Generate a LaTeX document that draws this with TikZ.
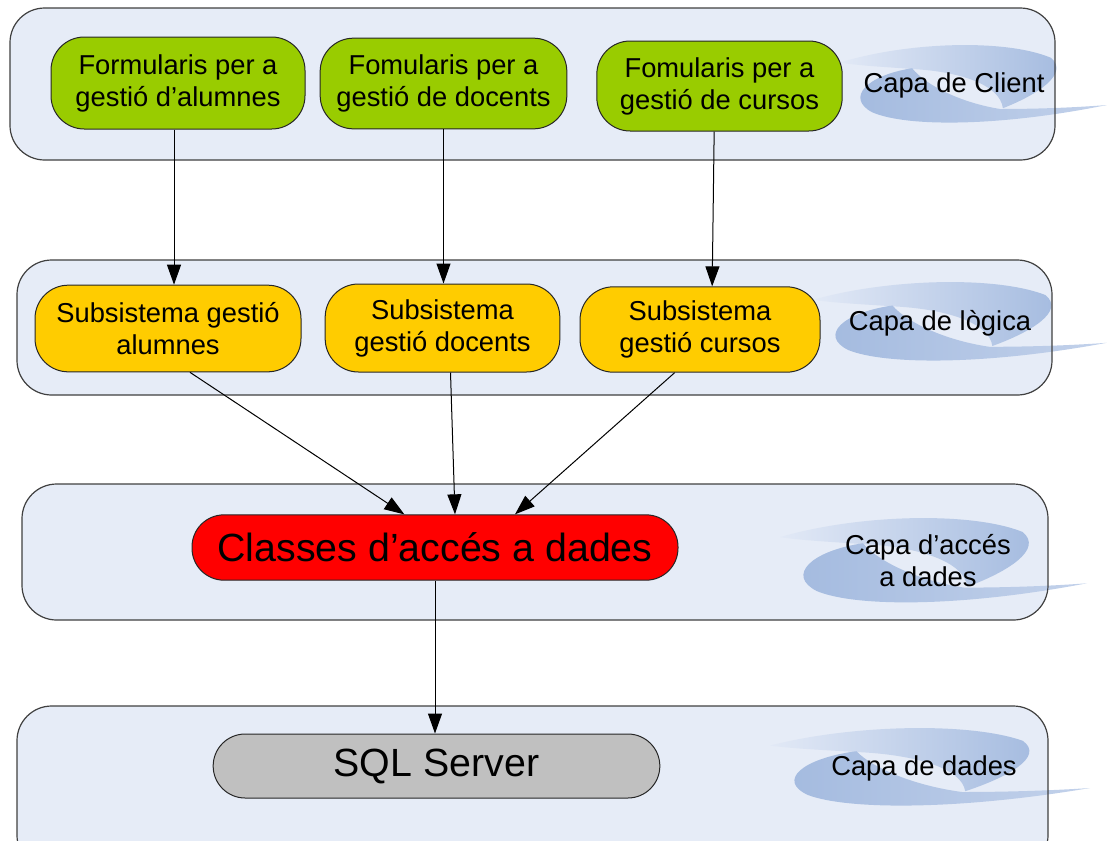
\documentclass[tikz,border=0pt]{standalone}
\usepackage{fontspec}
\setmainfont{Liberation Sans}
\usetikzlibrary{arrows.meta}
\definecolor{layerfill}{HTML}{E6ECF7}
\definecolor{layerdraw}{HTML}{404040}
\definecolor{greenbox}{HTML}{99CC00}
\definecolor{yellowbox}{HTML}{FFCC00}
\definecolor{redbox}{HTML}{FF0000}
\definecolor{graybox}{HTML}{C0C0C0}
\definecolor{swdark}{HTML}{A3BADF}
\definecolor{swlight}{HTML}{E2E9F6}
\newcommand\myswoosh[4]{%
  \begin{scope}[shift={(#1,#2)},xscale=#3,yscale=#4]
    \path[left color=swlight,right color=swdark]
      (0,0.22) .. controls (0.25,-0.04) and (0.62,-0.08) .. (0.79,0.16)
      .. controls (0.86,0.36) and (0.74,0.62) .. (0.61,0.79)
      .. controls (0.6,0.5) and (0.45,0.33) .. (0.27,0.3)
      .. controls (0.15,0.27) and (0.08,0.26) .. (0,0.22) -- cycle;
    \path[left color=swdark,right color=swlight!50!swdark]
      (0.27,0.29) .. controls (0.1,0.38) and (0.02,0.66) .. (0.12,0.84)
      .. controls (0.25,1.03) and (0.6,1.02) .. (1,0.75)
      .. controls (0.85,0.79) and (0.7,0.8) .. (0.6,0.8)
      .. controls (0.45,0.72) and (0.32,0.5) .. (0.27,0.29) -- cycle;
  \end{scope}}
\tikzset{
  layerbox/.style={rectangle, rounded corners=26pt, inner sep=0pt},
  layerline/.style={layerbox, draw=layerdraw, line width=0.9pt},
  boxbase/.style={rectangle, draw=black!85, line width=0.75pt, inner sep=0pt, align=center,
    font=\fontsize{20.5}{24}\selectfont},
  greennode/.style={boxbase, fill=greenbox, rounded corners=25pt},
  yellownode/.style={boxbase, fill=yellowbox, rounded corners=25pt},
  bignode/.style={boxbase, rounded corners=24pt, font=\fontsize{29.5}{34}\selectfont},
  capa/.style={align=center, inner sep=0pt, font=\fontsize{20.5}{24}\selectfont},
  arr/.style={draw=black, line width=0.75pt, -{Triangle[length=15pt,width=10.5pt]}}
}
\begin{document}
\begin{tikzpicture}[x=0.75pt,y=-0.75pt]
\useasboundingbox (0,0) rectangle (1107,840);
% layer backgrounds
\node[layerbox, fill=layerfill, minimum width=783.75pt, minimum height=114pt] (bg1) at (532.5,84) {};
\node[layerbox, fill=layerfill, minimum width=776.25pt, minimum height=101.25pt] (bg2) at (534.5,327.5) {};
\node[layerbox, fill=layerfill, minimum width=769.5pt, minimum height=102pt] (bg3) at (535,552) {};
\node[layerbox, fill=layerfill, minimum width=773.25pt, minimum height=123pt] (bg4) at (532.5,788) {};
% swooshes
\myswoosh{840}{45}{267}{80}
\myswoosh{813}{282}{294}{81}
\myswoosh{780}{518}{307}{87}
\myswoosh{770}{728}{320}{80}
% layer borders
\node[layerline, minimum width=783.75pt, minimum height=114pt] (lay1) at (bg1) {};
\node[layerline, minimum width=776.25pt, minimum height=101.25pt] (lay2) at (bg2) {};
\node[layerline, minimum width=769.5pt, minimum height=102pt] (lay3) at (bg3) {};
\node[layerline, minimum width=773.25pt, minimum height=123pt] (lay4) at (bg4) {};
% layer labels
\node[capa] (c1) at (954,85) {Capa de Client};
\node[capa] (c2) at (940,323) {Capa de lògica};
\node[capa] (c3) at (928,561) {Capa d’accés\\a dades};
\node[capa] (c4) at (924,768) {Capa de dades};
% client nodes
\node[greennode, minimum width=190.5pt, minimum height=69pt] (n1) at (178,83) {Formularis per a\\gestió d’alumnes};
\node[greennode, minimum width=185pt, minimum height=68pt] (n2) at (443.5,83.5) {Fomularis per a\\gestió de docents};
\node[greennode, minimum width=184pt, minimum height=67.5pt] (n3) at (719.5,86) {Fomularis per a\\gestió de cursos};
% logic nodes
\node[yellownode, minimum width=199.5pt, minimum height=65pt] (l1) at (168,328.5) {Subsistema gestió\\alumnes};
\node[yellownode, minimum width=176pt, minimum height=66pt] (l2) at (442.5,328) {Subsistema\\gestió docents};
\node[yellownode, minimum width=180pt, minimum height=64pt] (l3) at (700,329.5) {Subsistema\\gestió cursos};
% access and data
\node[bignode, fill=redbox, minimum width=364.5pt, minimum height=49pt] (acc) at (435,547.5) {Classes d’accés a dades};
\node[bignode, fill=graybox, minimum width=335pt, minimum height=48pt] (sql) at (436.5,766) {SQL Server};
% arrows
\draw[arr] ([xshift=-3pt]n1.south) -- ([xshift=-3pt]n1.south |- l1.north);
\draw[arr] (n2.south) -- (n2.south |- l2.north);
\draw[arr] ([xshift=-4pt]n3.south) -- ([xshift=-5.5pt]n3.south |- l3.north);
\draw[arr] ([xshift=16.5pt]l1.south) -- ([xshift=-23pt]acc.north);
\draw[arr] ([xshift=6pt]l2.south) -- ([xshift=15pt]acc.north);
\draw[arr] ([xshift=-19pt]l3.south) -- ([xshift=60pt]acc.north);
\draw[arr] (acc.south) -- (acc.south |- sql.north);
\end{tikzpicture}
\end{document}
